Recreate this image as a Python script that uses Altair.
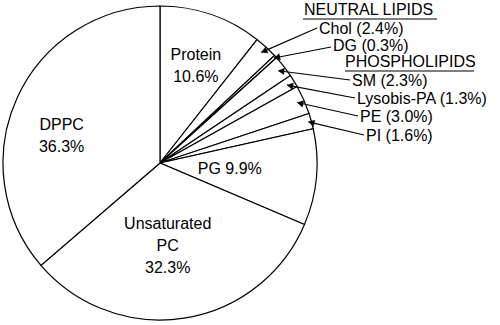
import math
import altair as alt
import pandas as pd

# ---- data ----
names = ["Protein", "Chol", "DG", "SM", "Lysobis-PA", "PE", "PI", "PG",
         "Unsaturated PC", "DPPC"]
values = [10.6, 2.4, 0.3, 2.3, 1.3, 3.0, 1.6, 9.9, 32.3, 36.3]
callout_names = ["Chol", "DG", "SM", "Lysobis-PA", "PE", "PI"]
group_titles = ["NEUTRAL LIPIDS", "PHOSPHOLIPIDS"]
inside_names = ["Protein", "DPPC", "PG", "Unsaturated PC"]

# ---- layout (pixels) ----
CX, CY, R = 160, 163, 157
FONT = "Liberation Sans"
LH = 22
# inside labels: (angle offset deg from slice middle, radius px)
inside_layout = {"Protein": (1.3, 103), "DPPC": (-9.3, 102),
                 "PG": (-0.3, 70), "Unsaturated PC": (3.5, 83)}
# callouts: label left x, label y, arrow start x, arrow start y, tip radius
callout_layout = {"Chol": (319, 29, 317, 28, 150),
                  "DG": (333, 46, 331, 47, 155),
                  "SM": (352, 81, 350, 80, 150),
                  "Lysobis-PA": (357, 99, 355, 98, 149),
                  "PE": (360, 117, 358, 116, 150),
                  "PI": (366, 136, 364, 135, 154)}
# group headers: text x, text y, underline x1, x2, underline y
header_layout = {"NEUTRAL LIPIDS": (304, 10, 303, 437, 19),
                 "PHOSPHOLIPIDS": (345, 62, 345, 474, 71)}
HEAD_LEN = 8

df = pd.DataFrame({"name": names, "value": values, "idx": range(len(names))})
df["start"] = df["value"].cumsum() - df["value"]
df["mid_deg"] = (df["start"] + df["value"] / 2) / df["value"].sum() * 360
mid = dict(zip(df["name"], df["mid_deg"]))
val = dict(zip(df["name"], df["value"]))


def fmt(v):
    return f"{v:.1f}%"


def polar(angle_deg, r):
    a = math.radians(angle_deg)
    return CX + r * math.sin(a), CY - r * math.cos(a)


# inside labels
inside_text = {"Protein": f"Protein\n{fmt(val['Protein'])}",
               "DPPC": f"DPPC\n{fmt(val['DPPC'])}",
               "PG": f"PG {fmt(val['PG'])}",
               "Unsaturated PC": f"Unsaturated\nPC\n{fmt(val['Unsaturated PC'])}"}
rows = []
for n in inside_names:
    off, r = inside_layout[n]
    x, y = polar(mid[n] + off, r)
    nlines = inside_text[n].count("\n") + 1
    rows.append({"label": inside_text[n], "px": x,
                 "py": y - (nlines - 1) * LH / 2})
inside_df = pd.DataFrame(rows)

# callouts
crow = []
for n in callout_names:
    lx, ly, sx, sy, tr = callout_layout[n]
    tx, ty = polar(mid[n], tr)
    dx, dy = tx - sx, ty - sy
    d = math.hypot(dx, dy)
    ang = math.degrees(math.atan2(dx, -dy)) % 360
    hx = tx - dx / d * HEAD_LEN / 2
    hy = ty - dy / d * HEAD_LEN / 2
    crow.append({"label": f"{n} ({val[n]:.1f}%)", "lx": lx, "ly": ly,
                 "sx": sx, "sy": sy, "tx": tx, "ty": ty,
                 "hx": hx, "hy": hy, "ang": ang})
call_df = pd.DataFrame(crow)

hrow = []
for h in group_titles:
    x, y, u1, u2, uy = header_layout[h]
    hrow.append({"label": h, "x": x, "y": y, "u1": u1, "u2": u2, "uy": uy})
head_df = pd.DataFrame(hrow)


def X(f):
    return alt.X(f, type="quantitative", scale=None, axis=None)


def Y(f):
    return alt.Y(f, type="quantitative", scale=None, axis=None)


pie = alt.Chart(df).mark_arc(outerRadius=R, fill="white", stroke="black",
                             strokeWidth=1.2).encode(
    theta=alt.Theta("value:Q", stack=True),
    order=alt.Order("idx:Q"),
    x=alt.value(CX), y=alt.value(CY),
)

inside = alt.Chart(inside_df).mark_text(
    font=FONT, fontSize=16, lineBreak="\n", lineHeight=LH,
    align="center", baseline="middle", color="black").encode(
    x=X("px"), y=Y("py"), text="label:N")

arrows = alt.Chart(call_df).mark_rule(color="black", strokeWidth=1.1).encode(
    x=X("sx"), y=Y("sy"), x2="tx", y2="ty")

heads = alt.Chart(call_df).mark_point(
    shape="triangle", filled=True, fill="black", stroke="black",
    strokeWidth=0.5, opacity=1, size=40).encode(
    x=X("hx"), y=Y("hy"), angle=alt.Angle("ang:Q", scale=None))

clabels = alt.Chart(call_df).mark_text(
    font=FONT, fontSize=16, align="left", baseline="middle",
    color="black").encode(x=X("lx"), y=Y("ly"), text="label:N")

htext = alt.Chart(head_df).mark_text(
    font=FONT, fontSize=16, align="left", baseline="middle",
    color="black").encode(x=X("x"), y=Y("y"), text="label:N")

hline = alt.Chart(head_df).mark_rule(color="black", strokeWidth=1.1).encode(
    x=X("u1"), x2="u2", y=Y("uy"))

chart = alt.layer(pie, inside, arrows, heads, clabels, htext, hline).properties(
    width=500, height=325, autosize="none", padding=0, background="white"
).configure_view(stroke=None)

chart.save("out.html", embed_options={"renderer": "svg", "actions": False})
